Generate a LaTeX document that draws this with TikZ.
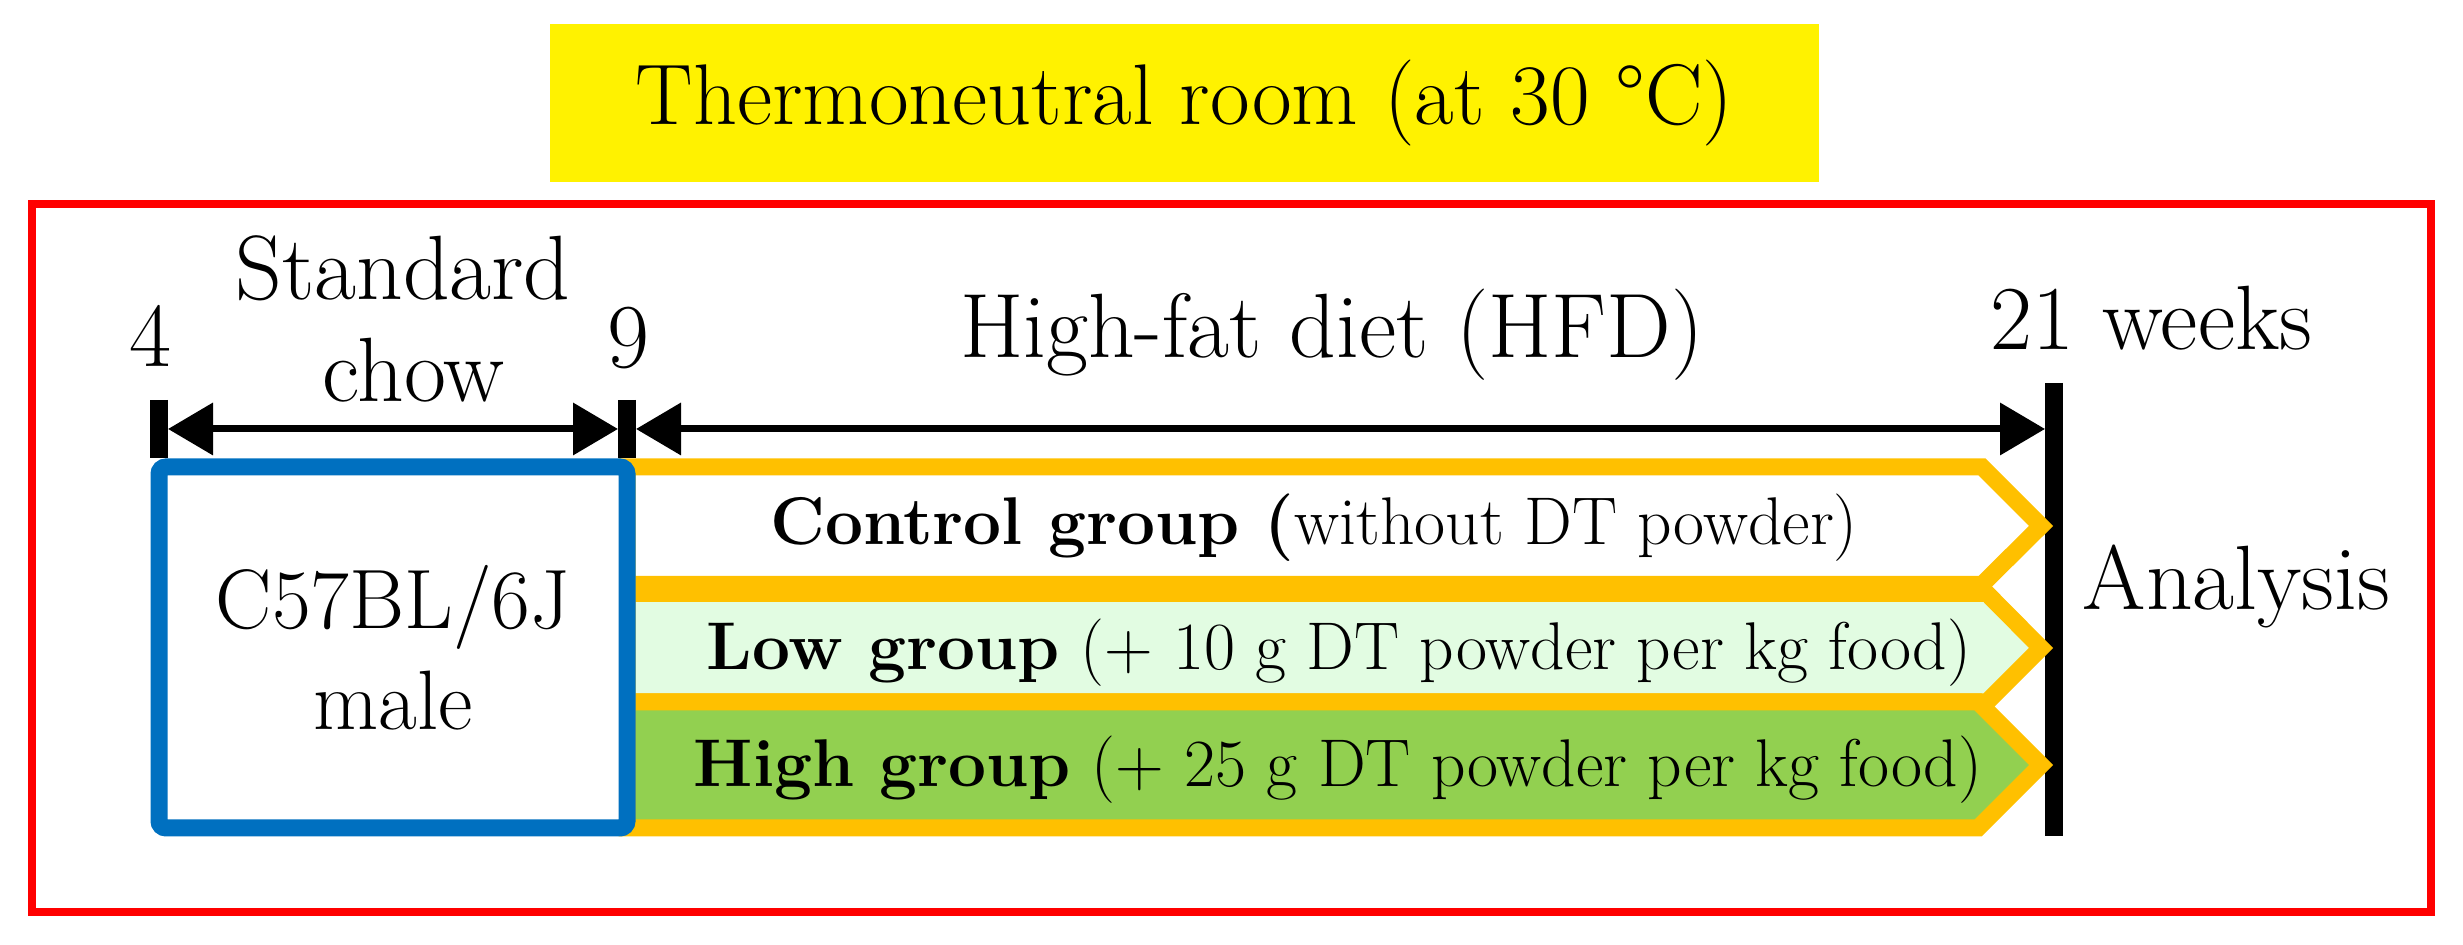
\documentclass[tikz,border=0pt]{standalone}
\usepackage{fontspec}
\usepackage{xcolor}
\usepackage{tikz}
\usetikzlibrary{arrows.meta, positioning, calc}

\definecolor{hfdorange}{HTML}{FFC000}
\definecolor{miceblue}{HTML}{0070C0}
\definecolor{lowgreen}{HTML}{E2FCE2}
\definecolor{highgreen}{HTML}{92D050}

\begin{document}
\begin{tikzpicture}[>={Triangle[length=0.45cm,width=0.51cm]},
		every node/.style={font=\fontsize{26}{30}\selectfont, inner sep=0pt},
		label text/.style={anchor=base},
		tick/.style={line width=0.18cm},
		span/.style={<->, line width=0.07cm, shorten <=0.09cm, shorten >=0.09cm},
		group arrow/.style={draw=hfdorange, line width=0.17cm},
		group text/.style={anchor=base, font=\fontsize{19.2}{23}\selectfont},
		mouse box/.style={draw=miceblue, fill=white, line width=0.17cm, rounded corners=2pt,
			align=center, font=\fontsize{24}{28.7}\selectfont}]
		
		\useasboundingbox (0,0) rectangle (24.63,9.45);
		
		% room
		\node[fill=yellow, minimum width=12.69cm, minimum height=1.58cm, font=\fontsize{24.5}{29}\selectfont] (room) at (11.845,8.42) {Thermoneutral room (at 30~°C)};
		\draw[red, line width=0.08cm] (0.32,0.33) rectangle (24.31,7.41);
		
		% time points
		\coordinate (t4) at (1.59,5.16);
		\coordinate (t9) at (6.27,5.16);
		\coordinate (t21) at (20.54,5.16);
		\coordinate (endtop) at (20.54,5.62);
		\coordinate (endbot) at (20.54,1.09);
		
		\draw[tick] (endtop) -- (endbot);
		
		% groups
		\draw[group arrow, fill=white] (6.27,4.78) -- (19.82,4.78) -- (20.41,4.19) -- (19.82,3.605) -- (6.27,3.605) -- cycle;
		\draw[group arrow, fill=lowgreen] (6.27,3.515) -- (19.87,3.515) -- (20.41,2.97) -- (19.87,2.43) -- (6.27,2.43) -- cycle;
		\draw[group arrow, fill=highgreen] (6.27,2.43) -- (19.78,2.43) -- (20.41,1.80) -- (19.78,1.17) -- (6.27,1.17) -- cycle;
		
		\node[mouse box, minimum width=4.68cm, minimum height=3.61cm] (mouse) at (3.93,2.975) {C57BL/6J\\male};
		
		\draw[tick] ($(t4)+(0,0.29)$) -- (t4 |- mouse.north);
		\draw[tick] ($(t9)+(0,0.29)$) -- (t9 |- mouse.north);
		\draw[span] (t4) -- (t9);
		\draw[span] (t9) -- (t21);
		
		% labels
		\node[label text] (w4) at (1.50,5.78) {4};
		\node[label text] (w9) at (6.28,5.77) {9};
		\node[label text] (std) at (4.03,6.45) {Standard};
		\node[label text] (chow) at (4.14,5.43) {chow};
		\node[label text] (hfd) at (13.32,5.87) {High-fat diet (HFD)};
		\node[label text, anchor=base west] (w21) at (19.90,5.95) {21 weeks};
		\node[label text, anchor=base west] (ana) at (20.82,3.35) {Analysis};
		
		\node[group text] (ctrl) at (13.14,4.00) {\textbf{Control group (}without DT powder)};
		\node[group text] (low) at (13.39,2.75) {\textbf{Low group} (+ 10 g DT powder per kg food)};
		\node[group text] (high) at (13.38,1.58) {\textbf{High group} (+ 25 g DT powder per kg food)};
		
	\end{tikzpicture}
\end{document}
